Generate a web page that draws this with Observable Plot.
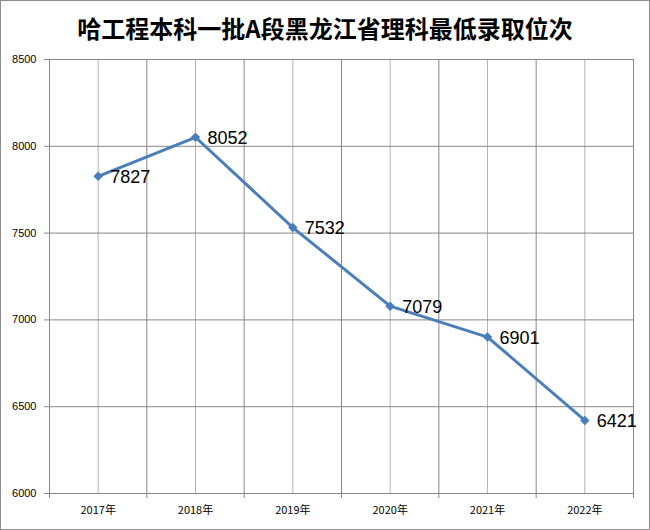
<!DOCTYPE html>
<html><head><meta charset="utf-8">
<script src="https://cdn.jsdelivr.net/npm/d3@7"></script>
<script src="https://cdn.jsdelivr.net/npm/@observablehq/plot@0.6"></script>
<style>
body{margin:0;background:#fff;}
#box{position:relative;width:650px;height:530px;box-sizing:border-box;border:1px solid #8c8c8c;background:#fff;}
#title{position:absolute;left:0;top:10px;width:100%;text-align:center;font-family:"Noto Sans CJK SC",sans-serif;font-weight:bold;font-size:24px;color:#000;line-height:34px;}
#chart{position:absolute;left:0;top:0;}
</style>
</head><body>
<div id="box"><div id="title">哈工程本科一批A段黑龙江省理科最低录取位次</div><div id="chart"></div></div>
<script>
const years = [2017, 2018, 2019, 2020, 2021, 2022];
const ranks = [7827, 8052, 7532, 7079, 6901, 6421];
const yTicks = [6000, 6500, 7000, 7500, 8000, 8500];

const data = years.map((y, i) => ({year: y, rank: ranks[i]}));
const bounds = [years[0] - 0.5, ...years.map(y => y + 0.5)];
const lineColor = "#4a7ebb";
const font = "Liberation Sans, Arial, sans-serif";

const chart = Plot.plot({
  width: 648, height: 528,
  marginTop: 58, marginBottom: 36, marginLeft: 48, marginRight: 16,
  style: {fontFamily: font, background: "transparent"},
  x: {type: "linear", domain: [bounds[0], bounds[bounds.length - 1]]},
  y: {domain: [6000, 8500]},
  marks: [
    Plot.ruleX(years, {stroke: "#b4b4b4", strokeWidth: 1}),
    Plot.ruleX(bounds, {stroke: "#878787", strokeWidth: 1}),
    Plot.ruleY(yTicks, {stroke: "#878787", strokeWidth: 1}),
    Plot.axisY({ticks: yTicks, tickSize: 5, tickPadding: 8, tickFormat: d => String(d), label: null, fontSize: 11, stroke: "#878787", color: "#000"}),
    Plot.axisX({ticks: bounds, tickSize: 5, tickFormat: () => "", label: null, stroke: "#878787"}),
    Plot.axisX({ticks: years, tickSize: 0, tickPadding: 13, tickFormat: d => d + "年", label: null, fontSize: 11, fontFamily: "Noto Sans CJK SC, sans-serif", color: "#000"}),
    Plot.line(data, {x: "year", y: "rank", stroke: lineColor, strokeWidth: 3}),
    Plot.dot(data, {x: "year", y: "rank", symbol: "square", rotate: 45, r: 3.8, fill: lineColor, stroke: "none"}),
    Plot.text(data, {x: "year", y: "rank", text: d => String(d.rank), textAnchor: "start", dx: 12, dy: 1, fontSize: 18, fill: "#000", fontFamily: font})
  ]
});
document.getElementById("chart").appendChild(chart);
</script>
</body></html>
